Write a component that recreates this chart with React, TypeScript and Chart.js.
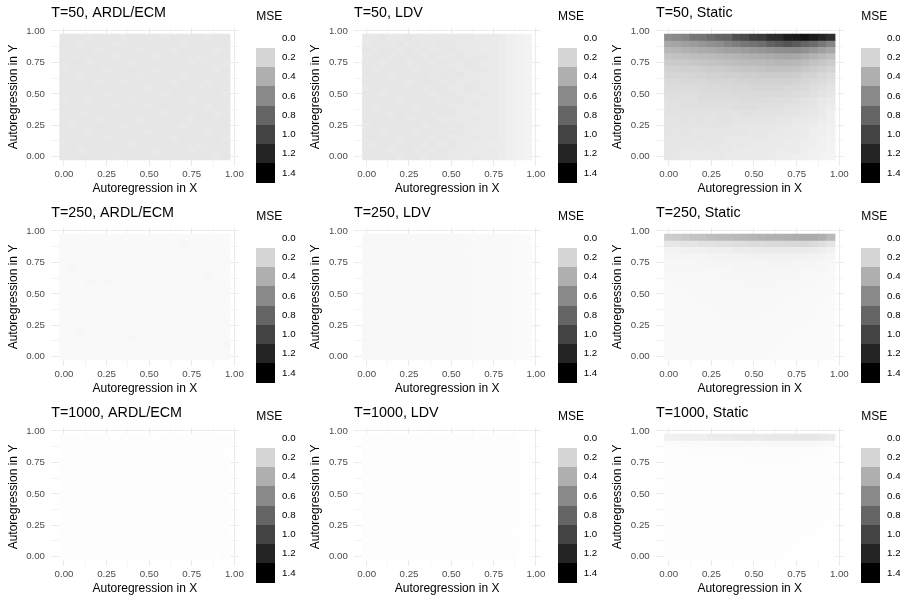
import { useEffect, useRef } from "react";
import { Chart, registerables } from "chart.js";

Chart.register(...registerables);

const FONT = "'Liberation Sans', Arial, Helvetica, sans-serif";
Chart.defaults.font.family = FONT;

// Autoregressive coefficient grid (same on both axes)
const arCoef = [0, 0.05, 0.1, 0.15, 0.2, 0.25, 0.3, 0.35, 0.4, 0.45, 0.5, 0.55, 0.6, 0.65, 0.7, 0.75, 0.8, 0.85, 0.9, 0.95];
const axisBreaks = [0, 0.25, 0.5, 0.75, 1];
const minorBreaks = [0.125, 0.375, 0.625, 0.875];
const mseBreaks = [0, 0.2, 0.4, 0.6, 0.8, 1.0, 1.2, 1.4];
const MSE_MAX = 1.4;
const sampleSizes = [50, 250, 1000];
const estimators = ["ARDL/ECM", "LDV", "Static"];

// MSE grids: each row is one AR-in-Y value, listed from 0.95 (top) down to 0.00;
// each column is one AR-in-X value from 0.00 to 0.95.
const mse_T50_ARDL = [
  [0.12, 0.12, 0.12, 0.11, 0.12, 0.12, 0.12, 0.11, 0.12, 0.12, 0.12, 0.12, 0.11, 0.12, 0.12, 0.12, 0.12, 0.11, 0.12, 0.12],
  [0.12, 0.12, 0.11, 0.12, 0.12, 0.12, 0.11, 0.11, 0.12, 0.12, 0.12, 0.12, 0.12, 0.12, 0.11, 0.12, 0.12, 0.12, 0.12, 0.12],
  [0.12, 0.12, 0.12, 0.12, 0.11, 0.12, 0.12, 0.12, 0.12, 0.11, 0.12, 0.12, 0.12, 0.11, 0.12, 0.12, 0.12, 0.12, 0.11, 0.12],
  [0.12, 0.11, 0.12, 0.12, 0.12, 0.12, 0.11, 0.12, 0.12, 0.12, 0.12, 0.11, 0.12, 0.12, 0.12, 0.12, 0.11, 0.12, 0.12, 0.12],
  [0.12, 0.12, 0.12, 0.11, 0.12, 0.12, 0.12, 0.12, 0.11, 0.12, 0.12, 0.12, 0.12, 0.12, 0.12, 0.11, 0.12, 0.12, 0.12, 0.11],
  [0.11, 0.12, 0.12, 0.12, 0.12, 0.11, 0.12, 0.12, 0.12, 0.12, 0.12, 0.11, 0.12, 0.12, 0.12, 0.12, 0.12, 0.12, 0.11, 0.12],
  [0.12, 0.12, 0.11, 0.12, 0.12, 0.12, 0.12, 0.12, 0.12, 0.11, 0.12, 0.12, 0.12, 0.12, 0.11, 0.12, 0.12, 0.12, 0.12, 0.12],
  [0.12, 0.12, 0.12, 0.12, 0.11, 0.12, 0.12, 0.11, 0.12, 0.12, 0.12, 0.12, 0.12, 0.11, 0.12, 0.12, 0.12, 0.11, 0.12, 0.12],
  [0.12, 0.11, 0.12, 0.12, 0.12, 0.12, 0.12, 0.12, 0.12, 0.12, 0.11, 0.12, 0.12, 0.12, 0.12, 0.12, 0.11, 0.12, 0.12, 0.12],
  [0.12, 0.12, 0.12, 0.12, 0.12, 0.11, 0.12, 0.12, 0.12, 0.12, 0.12, 0.12, 0.11, 0.12, 0.12, 0.12, 0.12, 0.12, 0.12, 0.11],
  [0.11, 0.12, 0.12, 0.11, 0.12, 0.12, 0.12, 0.12, 0.11, 0.12, 0.12, 0.12, 0.12, 0.12, 0.12, 0.11, 0.12, 0.12, 0.12, 0.12],
  [0.12, 0.12, 0.12, 0.12, 0.12, 0.12, 0.11, 0.12, 0.12, 0.12, 0.11, 0.12, 0.12, 0.12, 0.12, 0.12, 0.12, 0.11, 0.12, 0.12],
  [0.12, 0.12, 0.11, 0.12, 0.12, 0.12, 0.12, 0.12, 0.12, 0.12, 0.12, 0.12, 0.11, 0.12, 0.12, 0.12, 0.12, 0.12, 0.11, 0.12],
  [0.12, 0.12, 0.12, 0.12, 0.11, 0.12, 0.12, 0.12, 0.12, 0.11, 0.12, 0.12, 0.12, 0.12, 0.12, 0.11, 0.12, 0.12, 0.12, 0.12],
  [0.12, 0.11, 0.12, 0.12, 0.12, 0.12, 0.12, 0.11, 0.12, 0.12, 0.12, 0.12, 0.12, 0.12, 0.11, 0.12, 0.12, 0.12, 0.12, 0.12],
  [0.12, 0.12, 0.12, 0.11, 0.12, 0.12, 0.12, 0.12, 0.12, 0.12, 0.11, 0.12, 0.12, 0.12, 0.12, 0.12, 0.12, 0.11, 0.12, 0.12],
  [0.12, 0.12, 0.12, 0.12, 0.12, 0.11, 0.12, 0.12, 0.12, 0.12, 0.12, 0.12, 0.12, 0.11, 0.12, 0.12, 0.12, 0.12, 0.12, 0.11],
  [0.11, 0.12, 0.12, 0.12, 0.12, 0.12, 0.12, 0.12, 0.11, 0.12, 0.12, 0.12, 0.12, 0.12, 0.12, 0.12, 0.11, 0.12, 0.12, 0.12],
  [0.12, 0.12, 0.11, 0.12, 0.12, 0.12, 0.12, 0.12, 0.12, 0.12, 0.12, 0.11, 0.12, 0.12, 0.12, 0.11, 0.12, 0.12, 0.12, 0.12],
  [0.12, 0.12, 0.12, 0.12, 0.12, 0.12, 0.11, 0.12, 0.12, 0.12, 0.12, 0.12, 0.12, 0.12, 0.12, 0.12, 0.12, 0.12, 0.11, 0.12],
];

const mse_T50_LDV = [
  [0.11, 0.11, 0.12, 0.11, 0.11, 0.12, 0.11, 0.11, 0.11, 0.11, 0.11, 0.11, 0.11, 0.10, 0.10, 0.10, 0.09, 0.08, 0.07, 0.06],
  [0.11, 0.12, 0.11, 0.11, 0.12, 0.11, 0.12, 0.11, 0.11, 0.12, 0.11, 0.11, 0.11, 0.11, 0.10, 0.10, 0.09, 0.08, 0.07, 0.06],
  [0.12, 0.11, 0.12, 0.12, 0.11, 0.12, 0.11, 0.12, 0.11, 0.11, 0.12, 0.11, 0.11, 0.11, 0.10, 0.10, 0.09, 0.08, 0.07, 0.06],
  [0.11, 0.12, 0.12, 0.11, 0.12, 0.12, 0.12, 0.11, 0.12, 0.11, 0.11, 0.12, 0.11, 0.11, 0.11, 0.10, 0.09, 0.08, 0.07, 0.06],
  [0.12, 0.12, 0.11, 0.12, 0.12, 0.11, 0.12, 0.12, 0.11, 0.12, 0.11, 0.11, 0.12, 0.11, 0.10, 0.10, 0.09, 0.08, 0.07, 0.06],
  [0.12, 0.11, 0.12, 0.12, 0.12, 0.12, 0.11, 0.12, 0.12, 0.11, 0.12, 0.11, 0.11, 0.11, 0.11, 0.10, 0.09, 0.08, 0.07, 0.06],
  [0.12, 0.12, 0.12, 0.11, 0.12, 0.12, 0.12, 0.12, 0.11, 0.12, 0.11, 0.12, 0.11, 0.11, 0.10, 0.10, 0.09, 0.08, 0.07, 0.06],
  [0.12, 0.12, 0.12, 0.12, 0.12, 0.11, 0.12, 0.12, 0.12, 0.11, 0.12, 0.11, 0.11, 0.11, 0.10, 0.10, 0.09, 0.08, 0.07, 0.06],
  [0.11, 0.12, 0.12, 0.12, 0.12, 0.12, 0.12, 0.11, 0.12, 0.12, 0.11, 0.11, 0.12, 0.11, 0.10, 0.10, 0.09, 0.08, 0.07, 0.06],
  [0.12, 0.12, 0.11, 0.12, 0.12, 0.12, 0.12, 0.12, 0.11, 0.12, 0.12, 0.11, 0.11, 0.10, 0.11, 0.10, 0.09, 0.08, 0.07, 0.06],
  [0.12, 0.12, 0.12, 0.12, 0.11, 0.12, 0.12, 0.12, 0.12, 0.11, 0.11, 0.12, 0.11, 0.11, 0.10, 0.10, 0.09, 0.08, 0.07, 0.06],
  [0.12, 0.11, 0.12, 0.12, 0.12, 0.12, 0.11, 0.12, 0.12, 0.12, 0.11, 0.11, 0.11, 0.11, 0.10, 0.10, 0.09, 0.08, 0.07, 0.06],
  [0.12, 0.12, 0.12, 0.11, 0.12, 0.12, 0.12, 0.12, 0.11, 0.12, 0.12, 0.11, 0.11, 0.10, 0.10, 0.10, 0.09, 0.08, 0.07, 0.06],
  [0.12, 0.12, 0.12, 0.12, 0.12, 0.11, 0.12, 0.12, 0.12, 0.11, 0.11, 0.11, 0.11, 0.11, 0.10, 0.10, 0.09, 0.08, 0.07, 0.06],
  [0.11, 0.12, 0.12, 0.12, 0.12, 0.12, 0.12, 0.11, 0.12, 0.12, 0.11, 0.12, 0.11, 0.11, 0.10, 0.10, 0.09, 0.08, 0.07, 0.06],
  [0.12, 0.12, 0.11, 0.12, 0.12, 0.12, 0.11, 0.12, 0.12, 0.11, 0.12, 0.11, 0.11, 0.10, 0.10, 0.10, 0.09, 0.08, 0.07, 0.06],
  [0.12, 0.12, 0.12, 0.12, 0.11, 0.12, 0.12, 0.12, 0.11, 0.12, 0.11, 0.11, 0.11, 0.11, 0.10, 0.10, 0.09, 0.08, 0.07, 0.06],
  [0.12, 0.11, 0.12, 0.12, 0.12, 0.12, 0.12, 0.11, 0.12, 0.11, 0.12, 0.11, 0.11, 0.10, 0.10, 0.09, 0.09, 0.08, 0.07, 0.06],
  [0.12, 0.12, 0.12, 0.11, 0.12, 0.12, 0.11, 0.12, 0.11, 0.12, 0.11, 0.11, 0.11, 0.10, 0.10, 0.10, 0.09, 0.08, 0.07, 0.06],
  [0.12, 0.12, 0.12, 0.12, 0.11, 0.12, 0.12, 0.11, 0.12, 0.11, 0.11, 0.11, 0.10, 0.11, 0.10, 0.10, 0.09, 0.08, 0.07, 0.06],
];

const mse_T50_Static = [
  [0.58, 0.60, 0.63, 0.70, 0.71, 0.76, 0.80, 0.82, 0.93, 0.96, 1.04, 1.06, 1.14, 1.16, 1.25, 1.27, 1.32, 1.26, 1.20, 1.14],
  [0.44, 0.45, 0.48, 0.50, 0.53, 0.56, 0.58, 0.63, 0.66, 0.70, 0.72, 0.75, 0.82, 0.86, 0.90, 0.86, 0.80, 0.76, 0.70, 0.62],
  [0.36, 0.37, 0.39, 0.40, 0.42, 0.43, 0.45, 0.47, 0.48, 0.50, 0.52, 0.53, 0.55, 0.57, 0.58, 0.58, 0.56, 0.52, 0.48, 0.44],
  [0.29, 0.30, 0.31, 0.32, 0.33, 0.34, 0.35, 0.36, 0.37, 0.39, 0.40, 0.41, 0.42, 0.43, 0.44, 0.43, 0.41, 0.38, 0.35, 0.32],
  [0.25, 0.26, 0.26, 0.27, 0.28, 0.29, 0.30, 0.31, 0.32, 0.33, 0.34, 0.34, 0.35, 0.36, 0.36, 0.35, 0.33, 0.30, 0.28, 0.25],
  [0.22, 0.22, 0.23, 0.23, 0.24, 0.25, 0.25, 0.26, 0.27, 0.28, 0.28, 0.29, 0.30, 0.30, 0.30, 0.29, 0.27, 0.25, 0.23, 0.21],
  [0.20, 0.20, 0.20, 0.21, 0.21, 0.22, 0.22, 0.23, 0.23, 0.24, 0.24, 0.25, 0.25, 0.25, 0.25, 0.24, 0.22, 0.21, 0.19, 0.17],
  [0.18, 0.18, 0.19, 0.19, 0.19, 0.20, 0.20, 0.20, 0.21, 0.21, 0.22, 0.22, 0.22, 0.22, 0.22, 0.21, 0.20, 0.18, 0.17, 0.15],
  [0.17, 0.17, 0.17, 0.17, 0.18, 0.18, 0.18, 0.19, 0.19, 0.19, 0.20, 0.20, 0.20, 0.20, 0.19, 0.19, 0.18, 0.16, 0.15, 0.13],
  [0.16, 0.16, 0.16, 0.16, 0.17, 0.17, 0.17, 0.17, 0.18, 0.18, 0.18, 0.18, 0.18, 0.18, 0.18, 0.17, 0.16, 0.15, 0.13, 0.12],
  [0.15, 0.15, 0.15, 0.15, 0.16, 0.16, 0.16, 0.16, 0.16, 0.17, 0.17, 0.17, 0.16, 0.16, 0.16, 0.15, 0.14, 0.13, 0.11, 0.10],
  [0.14, 0.14, 0.15, 0.15, 0.15, 0.15, 0.15, 0.15, 0.16, 0.16, 0.16, 0.15, 0.15, 0.15, 0.14, 0.14, 0.13, 0.12, 0.10, 0.09],
  [0.14, 0.14, 0.14, 0.14, 0.14, 0.14, 0.14, 0.14, 0.14, 0.15, 0.14, 0.14, 0.14, 0.14, 0.13, 0.13, 0.12, 0.11, 0.10, 0.08],
  [0.13, 0.13, 0.14, 0.13, 0.14, 0.13, 0.14, 0.14, 0.13, 0.13, 0.13, 0.13, 0.13, 0.12, 0.12, 0.11, 0.11, 0.10, 0.09, 0.08],
  [0.13, 0.13, 0.13, 0.13, 0.13, 0.13, 0.13, 0.13, 0.12, 0.12, 0.12, 0.12, 0.12, 0.11, 0.11, 0.10, 0.10, 0.09, 0.08, 0.07],
  [0.13, 0.12, 0.13, 0.12, 0.12, 0.12, 0.12, 0.12, 0.12, 0.12, 0.11, 0.11, 0.11, 0.11, 0.10, 0.10, 0.09, 0.08, 0.08, 0.07],
  [0.12, 0.12, 0.12, 0.12, 0.12, 0.12, 0.12, 0.11, 0.11, 0.11, 0.11, 0.11, 0.10, 0.10, 0.10, 0.09, 0.09, 0.08, 0.07, 0.06],
  [0.12, 0.12, 0.12, 0.12, 0.11, 0.12, 0.11, 0.11, 0.11, 0.11, 0.10, 0.10, 0.10, 0.10, 0.09, 0.09, 0.08, 0.08, 0.07, 0.06],
  [0.12, 0.12, 0.11, 0.11, 0.11, 0.11, 0.11, 0.11, 0.10, 0.10, 0.10, 0.10, 0.10, 0.09, 0.09, 0.09, 0.08, 0.07, 0.07, 0.06],
  [0.12, 0.11, 0.11, 0.11, 0.11, 0.11, 0.11, 0.10, 0.10, 0.10, 0.10, 0.10, 0.09, 0.09, 0.09, 0.08, 0.08, 0.07, 0.06, 0.06],
];

const mse_T250_ARDL = [
  [0.03, 0.03, 0.028, 0.03, 0.03, 0.028, 0.03, 0.03, 0.03, 0.028, 0.03, 0.03, 0.028, 0.03, 0.03, 0.03, 0.028, 0.03, 0.03, 0.03],
  [0.03, 0.028, 0.03, 0.03, 0.03, 0.03, 0.028, 0.03, 0.03, 0.03, 0.03, 0.028, 0.03, 0.03, 0.04, 0.03, 0.03, 0.03, 0.028, 0.03],
  [0.028, 0.03, 0.03, 0.03, 0.028, 0.03, 0.03, 0.03, 0.028, 0.03, 0.03, 0.03, 0.03, 0.028, 0.03, 0.03, 0.03, 0.028, 0.03, 0.03],
  [0.03, 0.03, 0.03, 0.028, 0.03, 0.03, 0.03, 0.028, 0.03, 0.03, 0.028, 0.03, 0.03, 0.03, 0.03, 0.028, 0.03, 0.03, 0.03, 0.028],
  [0.03, 0.03, 0.028, 0.03, 0.03, 0.03, 0.028, 0.03, 0.03, 0.03, 0.03, 0.03, 0.028, 0.03, 0.03, 0.03, 0.03, 0.03, 0.028, 0.03],
  [0.03, 0.04, 0.03, 0.03, 0.03, 0.028, 0.03, 0.03, 0.03, 0.028, 0.03, 0.03, 0.03, 0.03, 0.028, 0.03, 0.03, 0.03, 0.03, 0.03],
  [0.028, 0.03, 0.03, 0.03, 0.03, 0.03, 0.03, 0.028, 0.03, 0.03, 0.03, 0.028, 0.03, 0.03, 0.03, 0.03, 0.03, 0.04, 0.03, 0.028],
  [0.03, 0.03, 0.03, 0.04, 0.03, 0.04, 0.03, 0.03, 0.028, 0.03, 0.03, 0.03, 0.03, 0.028, 0.03, 0.03, 0.028, 0.03, 0.03, 0.03],
  [0.03, 0.028, 0.03, 0.03, 0.03, 0.03, 0.028, 0.03, 0.03, 0.03, 0.028, 0.03, 0.03, 0.03, 0.03, 0.028, 0.03, 0.03, 0.03, 0.03],
  [0.03, 0.03, 0.03, 0.028, 0.03, 0.03, 0.03, 0.03, 0.03, 0.028, 0.03, 0.03, 0.028, 0.03, 0.03, 0.03, 0.03, 0.028, 0.03, 0.03],
  [0.028, 0.03, 0.03, 0.03, 0.03, 0.028, 0.03, 0.03, 0.03, 0.03, 0.03, 0.028, 0.03, 0.03, 0.028, 0.03, 0.03, 0.03, 0.03, 0.028],
  [0.03, 0.03, 0.028, 0.03, 0.03, 0.03, 0.03, 0.028, 0.03, 0.03, 0.03, 0.03, 0.03, 0.028, 0.03, 0.03, 0.03, 0.03, 0.028, 0.03],
  [0.03, 0.03, 0.03, 0.03, 0.028, 0.03, 0.03, 0.03, 0.03, 0.028, 0.03, 0.03, 0.03, 0.03, 0.03, 0.028, 0.03, 0.03, 0.03, 0.03],
  [0.03, 0.028, 0.03, 0.03, 0.03, 0.03, 0.028, 0.03, 0.03, 0.03, 0.03, 0.028, 0.03, 0.03, 0.03, 0.03, 0.028, 0.03, 0.03, 0.028],
  [0.028, 0.03, 0.03, 0.03, 0.03, 0.03, 0.03, 0.03, 0.028, 0.03, 0.03, 0.03, 0.028, 0.03, 0.03, 0.03, 0.03, 0.03, 0.03, 0.03],
  [0.03, 0.03, 0.04, 0.03, 0.028, 0.03, 0.03, 0.03, 0.03, 0.03, 0.028, 0.03, 0.03, 0.03, 0.028, 0.03, 0.03, 0.028, 0.03, 0.03],
  [0.03, 0.03, 0.03, 0.03, 0.03, 0.028, 0.03, 0.03, 0.04, 0.03, 0.03, 0.03, 0.03, 0.028, 0.03, 0.03, 0.03, 0.03, 0.028, 0.03],
  [0.03, 0.028, 0.03, 0.03, 0.03, 0.03, 0.03, 0.028, 0.03, 0.03, 0.03, 0.028, 0.03, 0.03, 0.03, 0.028, 0.03, 0.03, 0.03, 0.04],
  [0.028, 0.03, 0.03, 0.028, 0.03, 0.03, 0.03, 0.03, 0.03, 0.028, 0.03, 0.03, 0.03, 0.03, 0.03, 0.03, 0.028, 0.03, 0.03, 0.03],
  [0.03, 0.03, 0.03, 0.03, 0.03, 0.028, 0.03, 0.03, 0.028, 0.03, 0.03, 0.03, 0.028, 0.03, 0.03, 0.03, 0.03, 0.03, 0.028, 0.03],
];

const mse_T250_LDV = [
  [0.033, 0.034, 0.033, 0.034, 0.033, 0.033, 0.034, 0.033, 0.033, 0.032, 0.033, 0.032, 0.031, 0.031, 0.03, 0.029, 0.027, 0.025, 0.022, 0.02],
  [0.034, 0.033, 0.034, 0.033, 0.034, 0.033, 0.033, 0.034, 0.033, 0.033, 0.032, 0.032, 0.032, 0.031, 0.03, 0.028, 0.027, 0.025, 0.022, 0.02],
  [0.034, 0.034, 0.033, 0.034, 0.034, 0.034, 0.033, 0.033, 0.034, 0.033, 0.033, 0.032, 0.031, 0.031, 0.03, 0.029, 0.027, 0.024, 0.022, 0.019],
  [0.035, 0.034, 0.034, 0.034, 0.033, 0.034, 0.034, 0.034, 0.033, 0.033, 0.033, 0.032, 0.032, 0.031, 0.03, 0.029, 0.027, 0.025, 0.022, 0.02],
  [0.034, 0.035, 0.034, 0.034, 0.034, 0.034, 0.034, 0.033, 0.034, 0.033, 0.032, 0.033, 0.032, 0.031, 0.03, 0.028, 0.027, 0.025, 0.022, 0.02],
  [0.035, 0.034, 0.035, 0.034, 0.034, 0.035, 0.034, 0.034, 0.033, 0.034, 0.033, 0.032, 0.032, 0.031, 0.03, 0.029, 0.027, 0.024, 0.022, 0.019],
  [0.035, 0.035, 0.034, 0.035, 0.034, 0.034, 0.034, 0.034, 0.034, 0.033, 0.033, 0.033, 0.032, 0.031, 0.03, 0.029, 0.027, 0.025, 0.022, 0.02],
  [0.034, 0.035, 0.035, 0.034, 0.035, 0.034, 0.035, 0.034, 0.033, 0.034, 0.033, 0.032, 0.032, 0.031, 0.03, 0.028, 0.027, 0.025, 0.022, 0.02],
  [0.035, 0.035, 0.034, 0.035, 0.035, 0.034, 0.034, 0.035, 0.034, 0.033, 0.033, 0.033, 0.032, 0.031, 0.03, 0.029, 0.027, 0.024, 0.022, 0.019],
  [0.035, 0.034, 0.035, 0.035, 0.034, 0.035, 0.034, 0.034, 0.034, 0.034, 0.033, 0.032, 0.032, 0.031, 0.03, 0.029, 0.027, 0.025, 0.022, 0.02],
  [0.036, 0.035, 0.035, 0.034, 0.035, 0.035, 0.035, 0.034, 0.034, 0.033, 0.033, 0.033, 0.032, 0.031, 0.03, 0.028, 0.027, 0.025, 0.022, 0.02],
  [0.035, 0.036, 0.035, 0.035, 0.035, 0.034, 0.035, 0.035, 0.034, 0.034, 0.033, 0.032, 0.032, 0.031, 0.03, 0.029, 0.027, 0.024, 0.022, 0.019],
  [0.035, 0.035, 0.036, 0.035, 0.035, 0.035, 0.034, 0.035, 0.034, 0.034, 0.033, 0.033, 0.032, 0.031, 0.03, 0.029, 0.027, 0.025, 0.022, 0.02],
  [0.036, 0.035, 0.035, 0.036, 0.035, 0.035, 0.035, 0.034, 0.035, 0.034, 0.033, 0.033, 0.032, 0.031, 0.03, 0.028, 0.027, 0.025, 0.022, 0.02],
  [0.036, 0.036, 0.035, 0.035, 0.036, 0.035, 0.035, 0.035, 0.034, 0.034, 0.034, 0.032, 0.032, 0.031, 0.03, 0.029, 0.027, 0.024, 0.022, 0.019],
  [0.036, 0.036, 0.036, 0.035, 0.035, 0.036, 0.035, 0.035, 0.035, 0.034, 0.033, 0.033, 0.032, 0.031, 0.03, 0.029, 0.027, 0.025, 0.022, 0.02],
  [0.037, 0.036, 0.036, 0.036, 0.035, 0.035, 0.036, 0.035, 0.035, 0.034, 0.034, 0.033, 0.032, 0.031, 0.03, 0.028, 0.027, 0.025, 0.022, 0.02],
  [0.036, 0.037, 0.036, 0.036, 0.036, 0.035, 0.035, 0.036, 0.035, 0.034, 0.034, 0.033, 0.032, 0.031, 0.03, 0.029, 0.027, 0.024, 0.022, 0.019],
  [0.037, 0.036, 0.037, 0.036, 0.036, 0.036, 0.035, 0.035, 0.035, 0.035, 0.034, 0.033, 0.032, 0.031, 0.03, 0.029, 0.027, 0.025, 0.022, 0.02],
  [0.037, 0.037, 0.036, 0.037, 0.036, 0.036, 0.036, 0.035, 0.035, 0.034, 0.034, 0.033, 0.032, 0.031, 0.03, 0.028, 0.027, 0.025, 0.022, 0.02],
];

const mse_T250_Static = [
  [0.24, 0.25, 0.27, 0.29, 0.30, 0.32, 0.33, 0.34, 0.35, 0.36, 0.37, 0.38, 0.39, 0.39, 0.40, 0.41, 0.42, 0.42, 0.40, 0.35],
  [0.12, 0.12, 0.13, 0.13, 0.14, 0.14, 0.15, 0.15, 0.16, 0.16, 0.17, 0.17, 0.18, 0.18, 0.19, 0.19, 0.19, 0.18, 0.16, 0.13],
  [0.06, 0.06, 0.07, 0.07, 0.07, 0.08, 0.08, 0.08, 0.09, 0.09, 0.09, 0.10, 0.10, 0.10, 0.10, 0.10, 0.10, 0.09, 0.08, 0.07],
  [0.05, 0.05, 0.05, 0.05, 0.05, 0.06, 0.06, 0.06, 0.06, 0.06, 0.07, 0.07, 0.07, 0.07, 0.07, 0.07, 0.07, 0.06, 0.06, 0.05],
  [0.04, 0.04, 0.04, 0.04, 0.05, 0.05, 0.05, 0.05, 0.05, 0.05, 0.05, 0.05, 0.06, 0.06, 0.06, 0.05, 0.05, 0.05, 0.04, 0.04],
  [0.04, 0.04, 0.04, 0.04, 0.04, 0.04, 0.04, 0.04, 0.05, 0.05, 0.05, 0.05, 0.05, 0.05, 0.05, 0.05, 0.04, 0.04, 0.04, 0.03],
  [0.035, 0.035, 0.035, 0.04, 0.04, 0.04, 0.04, 0.04, 0.04, 0.04, 0.045, 0.045, 0.045, 0.045, 0.045, 0.04, 0.04, 0.035, 0.035, 0.03],
  [0.035, 0.035, 0.035, 0.035, 0.035, 0.035, 0.04, 0.04, 0.04, 0.04, 0.04, 0.04, 0.04, 0.04, 0.04, 0.04, 0.035, 0.035, 0.03, 0.03],
  [0.03, 0.035, 0.035, 0.035, 0.035, 0.035, 0.035, 0.035, 0.035, 0.04, 0.04, 0.04, 0.04, 0.04, 0.035, 0.035, 0.035, 0.03, 0.03, 0.025],
  [0.03, 0.03, 0.03, 0.035, 0.035, 0.035, 0.035, 0.035, 0.035, 0.035, 0.035, 0.035, 0.035, 0.035, 0.035, 0.035, 0.03, 0.03, 0.03, 0.025],
  [0.03, 0.03, 0.03, 0.03, 0.035, 0.035, 0.035, 0.035, 0.035, 0.035, 0.035, 0.035, 0.035, 0.035, 0.03, 0.03, 0.03, 0.03, 0.025, 0.025],
  [0.03, 0.03, 0.03, 0.03, 0.03, 0.035, 0.035, 0.035, 0.035, 0.035, 0.035, 0.035, 0.035, 0.03, 0.03, 0.03, 0.03, 0.025, 0.025, 0.022],
  [0.03, 0.03, 0.03, 0.03, 0.03, 0.03, 0.035, 0.035, 0.035, 0.035, 0.035, 0.035, 0.03, 0.03, 0.03, 0.03, 0.028, 0.025, 0.025, 0.022],
  [0.03, 0.03, 0.03, 0.03, 0.03, 0.03, 0.03, 0.03, 0.035, 0.035, 0.035, 0.03, 0.03, 0.03, 0.03, 0.028, 0.028, 0.025, 0.022, 0.02],
  [0.03, 0.03, 0.03, 0.03, 0.03, 0.03, 0.03, 0.03, 0.03, 0.03, 0.03, 0.03, 0.03, 0.03, 0.028, 0.028, 0.025, 0.025, 0.022, 0.02],
  [0.03, 0.03, 0.03, 0.03, 0.03, 0.03, 0.03, 0.03, 0.03, 0.03, 0.03, 0.03, 0.03, 0.028, 0.028, 0.025, 0.025, 0.022, 0.022, 0.02],
  [0.03, 0.03, 0.03, 0.03, 0.03, 0.03, 0.03, 0.03, 0.03, 0.03, 0.03, 0.03, 0.028, 0.028, 0.025, 0.025, 0.025, 0.022, 0.02, 0.02],
  [0.03, 0.03, 0.03, 0.03, 0.03, 0.03, 0.03, 0.03, 0.03, 0.03, 0.028, 0.028, 0.028, 0.025, 0.025, 0.025, 0.022, 0.022, 0.02, 0.018],
  [0.03, 0.03, 0.03, 0.03, 0.03, 0.03, 0.03, 0.03, 0.028, 0.028, 0.028, 0.028, 0.025, 0.025, 0.025, 0.022, 0.022, 0.02, 0.02, 0.018],
  [0.03, 0.03, 0.03, 0.03, 0.03, 0.03, 0.028, 0.028, 0.028, 0.028, 0.025, 0.025, 0.025, 0.025, 0.022, 0.022, 0.02, 0.02, 0.018, 0.018],
];

const mse_T1000_ARDL = [
  [0.008, 0.008, 0.007, 0.008, 0.008, 0.008, 0.007, 0.008, 0.008, 0.008, 0.008, 0.007, 0.008, 0.008, 0.008, 0.008, 0.007, 0.008, 0.008, 0.008],
  [0.008, 0.007, 0.008, 0.008, 0.008, 0.007, 0.008, 0.008, 0.008, 0.008, 0.007, 0.008, 0.008, 0.008, 0.007, 0.008, 0.008, 0.008, 0.007, 0.008],
  [0.008, 0.008, 0.008, 0.007, 0.008, 0.008, 0.008, 0.008, 0.007, 0.008, 0.008, 0.008, 0.008, 0.007, 0.008, 0.008, 0.008, 0.008, 0.008, 0.007],
  [0.007, 0.008, 0.008, 0.008, 0.008, 0.008, 0.008, 0.007, 0.008, 0.008, 0.008, 0.008, 0.007, 0.008, 0.008, 0.008, 0.007, 0.008, 0.008, 0.008],
  [0.008, 0.008, 0.007, 0.008, 0.008, 0.008, 0.008, 0.008, 0.008, 0.007, 0.008, 0.008, 0.008, 0.008, 0.008, 0.007, 0.008, 0.008, 0.008, 0.008],
  [0.008, 0.008, 0.008, 0.008, 0.007, 0.008, 0.008, 0.008, 0.008, 0.008, 0.008, 0.007, 0.008, 0.008, 0.008, 0.008, 0.008, 0.008, 0.007, 0.008],
  [0.008, 0.007, 0.008, 0.008, 0.008, 0.008, 0.007, 0.008, 0.008, 0.008, 0.008, 0.008, 0.008, 0.007, 0.008, 0.008, 0.008, 0.008, 0.008, 0.008],
  [0.008, 0.008, 0.008, 0.007, 0.008, 0.008, 0.008, 0.008, 0.007, 0.008, 0.008, 0.008, 0.008, 0.008, 0.008, 0.007, 0.008, 0.008, 0.008, 0.007],
  [0.007, 0.008, 0.008, 0.008, 0.008, 0.007, 0.008, 0.008, 0.008, 0.008, 0.007, 0.008, 0.008, 0.008, 0.008, 0.008, 0.008, 0.007, 0.008, 0.008],
  [0.008, 0.008, 0.007, 0.008, 0.008, 0.008, 0.008, 0.007, 0.008, 0.008, 0.008, 0.008, 0.007, 0.008, 0.008, 0.008, 0.008, 0.008, 0.008, 0.008],
  [0.008, 0.008, 0.008, 0.008, 0.007, 0.008, 0.008, 0.008, 0.008, 0.007, 0.008, 0.008, 0.008, 0.008, 0.007, 0.008, 0.008, 0.008, 0.007, 0.008],
  [0.008, 0.007, 0.008, 0.008, 0.008, 0.008, 0.007, 0.008, 0.008, 0.008, 0.008, 0.007, 0.008, 0.008, 0.008, 0.008, 0.007, 0.008, 0.008, 0.008],
  [0.008, 0.008, 0.008, 0.007, 0.008, 0.008, 0.008, 0.008, 0.007, 0.008, 0.008, 0.008, 0.008, 0.008, 0.008, 0.007, 0.008, 0.008, 0.008, 0.007],
  [0.007, 0.008, 0.008, 0.008, 0.008, 0.007, 0.008, 0.008, 0.008, 0.008, 0.008, 0.008, 0.007, 0.008, 0.008, 0.008, 0.008, 0.007, 0.008, 0.008],
  [0.008, 0.008, 0.007, 0.008, 0.008, 0.008, 0.008, 0.007, 0.008, 0.008, 0.007, 0.008, 0.008, 0.008, 0.007, 0.008, 0.008, 0.008, 0.008, 0.008],
  [0.008, 0.008, 0.008, 0.008, 0.007, 0.008, 0.008, 0.008, 0.008, 0.008, 0.008, 0.007, 0.008, 0.008, 0.008, 0.008, 0.008, 0.008, 0.007, 0.008],
  [0.008, 0.007, 0.008, 0.008, 0.008, 0.008, 0.007, 0.008, 0.008, 0.007, 0.008, 0.008, 0.008, 0.007, 0.008, 0.008, 0.007, 0.008, 0.008, 0.008],
  [0.008, 0.008, 0.008, 0.007, 0.008, 0.008, 0.008, 0.008, 0.007, 0.008, 0.008, 0.008, 0.008, 0.008, 0.008, 0.007, 0.008, 0.008, 0.008, 0.007],
  [0.007, 0.008, 0.008, 0.008, 0.008, 0.007, 0.008, 0.008, 0.008, 0.008, 0.007, 0.008, 0.008, 0.008, 0.008, 0.008, 0.008, 0.007, 0.008, 0.008],
  [0.008, 0.008, 0.007, 0.008, 0.008, 0.008, 0.008, 0.007, 0.008, 0.008, 0.008, 0.008, 0.007, 0.008, 0.008, 0.008, 0.008, 0.008, 0.007, 0.008],
];

const mse_T1000_LDV = [
  [0.011, 0.011, 0.011, 0.011, 0.011, 0.011, 0.011, 0.011, 0.011, 0.01, 0.01, 0.01, 0.01, 0.01, 0.009, 0.009, 0.008, 0.008, 0.007, 0.006],
  [0.011, 0.011, 0.011, 0.011, 0.011, 0.011, 0.011, 0.011, 0.01, 0.011, 0.01, 0.01, 0.01, 0.01, 0.009, 0.009, 0.008, 0.008, 0.007, 0.006],
  [0.011, 0.011, 0.011, 0.011, 0.011, 0.011, 0.011, 0.011, 0.011, 0.01, 0.01, 0.01, 0.01, 0.01, 0.009, 0.009, 0.008, 0.007, 0.007, 0.006],
  [0.011, 0.011, 0.011, 0.011, 0.011, 0.011, 0.011, 0.01, 0.011, 0.011, 0.01, 0.01, 0.01, 0.01, 0.009, 0.009, 0.008, 0.008, 0.007, 0.006],
  [0.011, 0.011, 0.011, 0.011, 0.011, 0.011, 0.011, 0.011, 0.011, 0.01, 0.011, 0.01, 0.01, 0.01, 0.009, 0.009, 0.008, 0.008, 0.007, 0.006],
  [0.011, 0.011, 0.011, 0.011, 0.011, 0.011, 0.011, 0.011, 0.011, 0.011, 0.01, 0.01, 0.01, 0.01, 0.01, 0.009, 0.008, 0.008, 0.007, 0.006],
  [0.011, 0.011, 0.011, 0.011, 0.011, 0.011, 0.011, 0.011, 0.01, 0.011, 0.01, 0.01, 0.01, 0.01, 0.009, 0.009, 0.008, 0.007, 0.007, 0.006],
  [0.011, 0.011, 0.011, 0.011, 0.011, 0.011, 0.011, 0.011, 0.011, 0.01, 0.01, 0.01, 0.01, 0.01, 0.009, 0.009, 0.008, 0.008, 0.007, 0.006],
  [0.011, 0.011, 0.011, 0.011, 0.011, 0.011, 0.011, 0.011, 0.011, 0.011, 0.01, 0.01, 0.01, 0.01, 0.009, 0.009, 0.008, 0.008, 0.007, 0.006],
  [0.011, 0.011, 0.011, 0.011, 0.011, 0.011, 0.01, 0.011, 0.011, 0.01, 0.01, 0.01, 0.01, 0.01, 0.009, 0.009, 0.008, 0.008, 0.007, 0.006],
  [0.011, 0.011, 0.011, 0.011, 0.011, 0.011, 0.011, 0.011, 0.011, 0.011, 0.01, 0.01, 0.01, 0.01, 0.009, 0.009, 0.008, 0.007, 0.007, 0.006],
  [0.011, 0.011, 0.011, 0.011, 0.011, 0.011, 0.011, 0.011, 0.01, 0.011, 0.011, 0.01, 0.01, 0.01, 0.009, 0.009, 0.008, 0.008, 0.007, 0.006],
  [0.011, 0.011, 0.011, 0.011, 0.011, 0.011, 0.011, 0.011, 0.011, 0.01, 0.01, 0.01, 0.01, 0.01, 0.01, 0.009, 0.008, 0.008, 0.007, 0.006],
  [0.011, 0.011, 0.011, 0.011, 0.011, 0.011, 0.011, 0.011, 0.011, 0.011, 0.01, 0.01, 0.01, 0.01, 0.009, 0.009, 0.008, 0.008, 0.007, 0.006],
  [0.011, 0.011, 0.011, 0.011, 0.011, 0.011, 0.011, 0.01, 0.011, 0.011, 0.01, 0.01, 0.01, 0.01, 0.009, 0.009, 0.008, 0.008, 0.007, 0.006],
  [0.011, 0.011, 0.011, 0.011, 0.011, 0.011, 0.011, 0.011, 0.011, 0.01, 0.01, 0.01, 0.01, 0.01, 0.009, 0.009, 0.008, 0.007, 0.007, 0.006],
  [0.011, 0.011, 0.011, 0.011, 0.011, 0.011, 0.011, 0.011, 0.011, 0.011, 0.011, 0.01, 0.01, 0.01, 0.009, 0.009, 0.008, 0.008, 0.007, 0.006],
  [0.011, 0.011, 0.011, 0.011, 0.011, 0.011, 0.011, 0.011, 0.01, 0.011, 0.01, 0.01, 0.01, 0.01, 0.009, 0.009, 0.008, 0.008, 0.007, 0.006],
  [0.011, 0.011, 0.011, 0.011, 0.011, 0.011, 0.011, 0.011, 0.011, 0.01, 0.01, 0.01, 0.01, 0.01, 0.009, 0.009, 0.008, 0.008, 0.007, 0.006],
  [0.011, 0.011, 0.011, 0.011, 0.011, 0.011, 0.011, 0.011, 0.011, 0.011, 0.01, 0.01, 0.01, 0.01, 0.009, 0.009, 0.008, 0.008, 0.007, 0.006],
];

const mse_T1000_Static = [
  [0.07, 0.07, 0.08, 0.08, 0.08, 0.09, 0.09, 0.09, 0.10, 0.10, 0.10, 0.10, 0.11, 0.11, 0.11, 0.12, 0.12, 0.12, 0.11, 0.10],
  [0.02, 0.02, 0.025, 0.025, 0.025, 0.025, 0.03, 0.03, 0.03, 0.03, 0.03, 0.03, 0.035, 0.035, 0.035, 0.035, 0.035, 0.035, 0.03, 0.025],
  [0.012, 0.012, 0.012, 0.013, 0.013, 0.013, 0.014, 0.014, 0.014, 0.015, 0.015, 0.015, 0.016, 0.016, 0.016, 0.016, 0.015, 0.015, 0.014, 0.012],
  [0.011, 0.011, 0.011, 0.011, 0.012, 0.012, 0.012, 0.012, 0.012, 0.013, 0.013, 0.013, 0.013, 0.013, 0.013, 0.013, 0.012, 0.012, 0.011, 0.01],
  [0.011, 0.011, 0.011, 0.011, 0.011, 0.011, 0.012, 0.012, 0.012, 0.012, 0.012, 0.012, 0.012, 0.012, 0.012, 0.012, 0.011, 0.011, 0.01, 0.01],
  [0.011, 0.011, 0.011, 0.011, 0.011, 0.011, 0.011, 0.011, 0.012, 0.012, 0.012, 0.012, 0.012, 0.012, 0.012, 0.011, 0.011, 0.01, 0.01, 0.009],
  [0.011, 0.011, 0.011, 0.011, 0.011, 0.011, 0.011, 0.011, 0.011, 0.011, 0.011, 0.011, 0.011, 0.011, 0.011, 0.011, 0.01, 0.01, 0.009, 0.009],
  [0.011, 0.011, 0.011, 0.011, 0.011, 0.011, 0.011, 0.011, 0.011, 0.011, 0.011, 0.011, 0.011, 0.011, 0.011, 0.01, 0.01, 0.01, 0.009, 0.008],
  [0.011, 0.011, 0.011, 0.011, 0.011, 0.011, 0.011, 0.011, 0.011, 0.011, 0.011, 0.011, 0.011, 0.011, 0.01, 0.01, 0.01, 0.009, 0.009, 0.008],
  [0.011, 0.011, 0.011, 0.011, 0.011, 0.011, 0.011, 0.011, 0.011, 0.011, 0.011, 0.011, 0.011, 0.01, 0.01, 0.01, 0.009, 0.009, 0.008, 0.008],
  [0.011, 0.011, 0.011, 0.011, 0.011, 0.011, 0.011, 0.011, 0.011, 0.011, 0.011, 0.011, 0.01, 0.01, 0.01, 0.01, 0.009, 0.009, 0.008, 0.008],
  [0.011, 0.011, 0.011, 0.011, 0.011, 0.011, 0.011, 0.011, 0.011, 0.011, 0.011, 0.01, 0.01, 0.01, 0.01, 0.009, 0.009, 0.008, 0.008, 0.007],
  [0.011, 0.011, 0.011, 0.011, 0.011, 0.011, 0.011, 0.011, 0.011, 0.011, 0.01, 0.01, 0.01, 0.01, 0.009, 0.009, 0.009, 0.008, 0.008, 0.007],
  [0.011, 0.011, 0.011, 0.011, 0.011, 0.011, 0.011, 0.011, 0.011, 0.01, 0.01, 0.01, 0.01, 0.009, 0.009, 0.009, 0.008, 0.008, 0.007, 0.007],
  [0.011, 0.011, 0.011, 0.011, 0.011, 0.011, 0.011, 0.011, 0.01, 0.01, 0.01, 0.01, 0.009, 0.009, 0.009, 0.008, 0.008, 0.008, 0.007, 0.007],
  [0.011, 0.011, 0.011, 0.011, 0.011, 0.011, 0.011, 0.01, 0.01, 0.01, 0.01, 0.009, 0.009, 0.009, 0.008, 0.008, 0.008, 0.007, 0.007, 0.006],
  [0.011, 0.011, 0.011, 0.011, 0.011, 0.011, 0.01, 0.01, 0.01, 0.01, 0.009, 0.009, 0.009, 0.008, 0.008, 0.008, 0.007, 0.007, 0.007, 0.006],
  [0.011, 0.011, 0.011, 0.011, 0.011, 0.01, 0.01, 0.01, 0.01, 0.009, 0.009, 0.009, 0.008, 0.008, 0.008, 0.007, 0.007, 0.007, 0.006, 0.006],
  [0.011, 0.011, 0.011, 0.011, 0.01, 0.01, 0.01, 0.01, 0.009, 0.009, 0.009, 0.008, 0.008, 0.008, 0.007, 0.007, 0.007, 0.006, 0.006, 0.006],
  [0.011, 0.011, 0.011, 0.01, 0.01, 0.01, 0.01, 0.009, 0.009, 0.009, 0.008, 0.008, 0.008, 0.007, 0.007, 0.007, 0.006, 0.006, 0.006, 0.005],
];

// rows: sample size, columns: estimator
const mseGrids = [
  [mse_T50_ARDL, mse_T50_LDV, mse_T50_Static],
  [mse_T250_ARDL, mse_T250_LDV, mse_T250_Static],
  [mse_T1000_ARDL, mse_T1000_LDV, mse_T1000_Static],
];

// Panel frame per column: plot area edges inside a 300x200 cell
const COLUMN_FRAME = [
  { left: 51.2, right: 238.6 },
  { left: 54.0, right: 240.2 },
  { left: 55.9, right: 243.6 },
];
const CELL_W = 300;
const CELL_H = 200;
const Y_AXIS_W = 51.2;
const X_AXIS_H = 29.4;
const BOTTOM_PAD = 4.5;
const HALF_STEP = 0.025;
const GRID_COLOR = "#ebebeb";

// White-to-black ramp, linear in CIE lightness
function mseGray(v: number): string {
  const t = Math.min(Math.max(v / MSE_MAX, 0), 1);
  const L = 100 * (1 - t);
  const Y = L > 8 ? Math.pow((L + 16) / 116, 3) : L / 903.3;
  const s = Y <= 0.0031308 ? 12.92 * Y : 1.055 * Math.pow(Y, 1 / 2.4) - 0.055;
  const g = Math.round(Math.min(Math.max(s, 0), 1) * 255);
  return `rgb(${g},${g},${g})`;
}

const isMajor = (v: number) => axisBreaks.some((b) => Math.abs(b - v) < 1e-9);
const gridTicks = [...axisBreaks, ...minorBreaks].sort((a, b) => a - b);

// Stepped MSE key drawn to the right of the panel
const mseKeyPlugin = {
  id: "mseKey",
  afterDraw(chart: any) {
    const { ctx, chartArea } = chart;
    const x = chartArea.right + 17.7;
    const keyTop = chartArea.top + 0.6;
    const keyW = 19.3;
    const keyH = 19.27;
    ctx.save();
    ctx.textBaseline = "middle";
    ctx.textAlign = "left";
    ctx.fillStyle = "#000";
    ctx.font = `12px ${FONT}`;
    ctx.fillText("MSE", x, chartArea.top - 11.2);
    ctx.font = `9.7px ${FONT}`;
    mseBreaks.forEach((b, i) => {
      const y0 = Math.round(keyTop + i * keyH);
      const y1 = Math.round(keyTop + (i + 1) * keyH);
      ctx.fillStyle = mseGray(b);
      ctx.fillRect(Math.round(x), y0, Math.round(keyW), y1 - y0);
      ctx.fillStyle = "#000";
      ctx.fillText(b.toFixed(1), x + 25.8, keyTop + (i + 0.5) * keyH);
    });
    ctx.restore();
  },
};

function HeatPanel({ row, col }: { row: number; col: number }) {
  const ref = useRef<HTMLCanvasElement | null>(null);

  useEffect(() => {
    const grid = mseGrids[row][col];
    const frame = COLUMN_FRAME[col];
    const datasets = grid.map((vals, r) => {
      const y = arCoef[arCoef.length - 1 - r];
      return {
        data: vals.map((_, c) => ({ x: arCoef[c], y: [y - HALF_STEP, y + HALF_STEP] })),
        backgroundColor: vals.map(mseGray),
        borderWidth: 0,
        grouped: false,
        barPercentage: 1,
        categoryPercentage: 1,
      };
    });

    const tickFont = { size: 9.7 };
    const gridOpts = {
      color: GRID_COLOR,
      lineWidth: (ctx: any) => (ctx.tick && isMajor(ctx.tick.value) ? 1.07 : 0.53),
      drawTicks: false,
      offset: false,
    };

    const chart = new Chart(ref.current as HTMLCanvasElement, {
      type: "bar",
      data: { datasets: datasets as any },
      plugins: [mseKeyPlugin],
      options: {
        animation: false,
        responsive: false,
        events: [],
        layout: {
          padding: {
            left: frame.left - Y_AXIS_W,
            right: CELL_W - frame.right,
            top: 0,
            bottom: BOTTOM_PAD,
          },
        },
        plugins: {
          legend: { display: false },
          tooltip: { enabled: false },
          title: {
            display: true,
            text: `T=${sampleSizes[row]}, ${estimators[col]}`,
            align: "start",
            fullSize: false,
            color: "#000",
            font: { size: 14.3, weight: "normal" },
            padding: { top: 4.7, bottom: 6 },
          },
        },
        scales: {
          x: {
            type: "linear",
            min: -0.075,
            max: 1.025,
            offset: false,
            grid: gridOpts,
            border: { display: false },
            afterBuildTicks: (axis: any) => {
              axis.ticks = gridTicks.map((value) => ({ value }));
            },
            afterFit: (axis: any) => {
              axis.height = X_AXIS_H;
            },
            ticks: {
              autoSkip: false,
              maxRotation: 0,
              padding: 2.4,
              color: "#4d4d4d",
              font: tickFont,
              callback: (v: any) => (isMajor(Number(v)) ? Number(v).toFixed(2) : ""),
            },
            title: {
              display: true,
              text: "Autoregression in X",
              color: "#000",
              font: { size: 12 },
              padding: 0,
            },
          },
          y: {
            type: "linear",
            min: -0.075,
            max: 1.025,
            grid: gridOpts,
            border: { display: false },
            afterBuildTicks: (axis: any) => {
              axis.ticks = gridTicks.map((value) => ({ value }));
            },
            afterFit: (axis: any) => {
              axis.width = Y_AXIS_W;
            },
            ticks: {
              autoSkip: false,
              padding: 6.2,
              color: "#4d4d4d",
              font: tickFont,
              callback: (v: any) => (isMajor(Number(v)) ? Number(v).toFixed(2) : ""),
            },
            title: {
              display: true,
              text: "Autoregression in Y",
              color: "#000",
              font: { size: 12 },
              padding: 6.1,
            },
          },
        },
      } as any,
    });
    return () => chart.destroy();
  }, [row, col]);

  return (
    <canvas
      ref={ref}
      width={CELL_W}
      height={CELL_H}
      style={{ position: "absolute", left: col * CELL_W, top: row * CELL_H, width: CELL_W, height: CELL_H }}
    />
  );
}

export default function App() {
  const cells: { row: number; col: number }[] = [];
  sampleSizes.forEach((_, row) => estimators.forEach((__, col) => cells.push({ row, col })));
  return (
    <div style={{ position: "absolute", left: 0, top: 0, width: 900, height: 599, overflow: "hidden", background: "#fff" }}>
      {cells.map(({ row, col }) => (
        <HeatPanel key={`${row}-${col}`} row={row} col={col} />
      ))}
    </div>
  );
}
